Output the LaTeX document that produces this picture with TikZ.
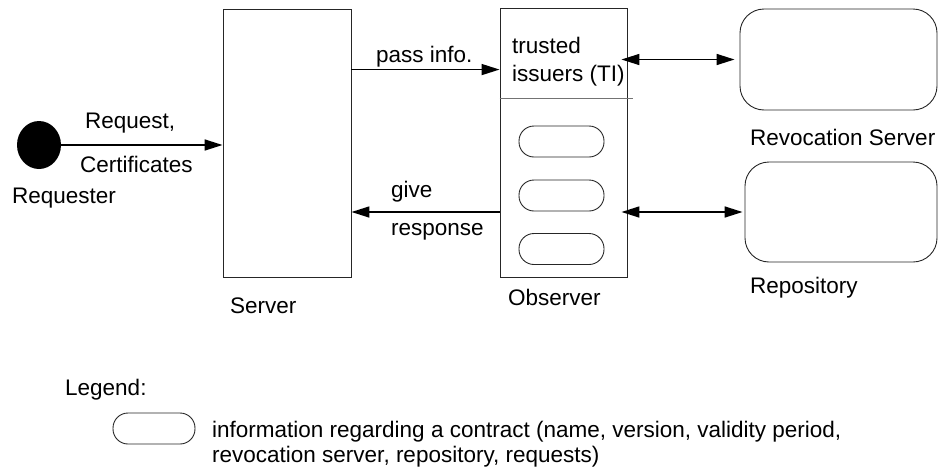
\documentclass[tikz,border=0pt]{standalone}
\usepackage{fontspec}
\setmainfont{Liberation Sans}
\usetikzlibrary{arrows.meta,shapes.geometric}

\begin{document}
\begin{tikzpicture}[x=1pt, y=-1pt,
		font=\fontsize{22.5}{28}\selectfont,
		block/.style={draw=black!85, line width=0.9pt, inner sep=0pt},
		store/.style={block, rounded corners=24pt},
		entry/.style={block, rounded corners=15pt, minimum width=#1, minimum height=31pt},
		entry/.default=85pt,
		msg/.style={line width=1.6pt, -{Triangle[length=18pt,width=11pt]}},
		sync/.style={line width=1.6pt, {Triangle[length=18pt,width=11pt]}-{Triangle[length=18pt,width=11pt]}},
		lbl/.style={inner sep=0pt, anchor=base west},
	]
		\useasboundingbox (0,0) rectangle (938,469);
		%
		\node[ellipse, fill=black, minimum width=44pt, minimum height=48pt, inner sep=0pt] (req) at (39,145) {};
		\node[block, minimum width=128pt, minimum height=268pt] (srv) at (287,143) {};
		\node[block, minimum width=127pt, minimum height=269pt] (obs) at (563.5,142.5) {};
		\node[store, minimum width=197pt, minimum height=101pt] (rev) at (838.5,59.5) {};
		\node[store, minimum width=192pt, minimum height=100pt] (repo) at (841,212) {};
		\draw[black!55, line width=0.9pt] ([yshift=-91pt]obs.north west) -- ++(133,0);
		\foreach \n/\y in {1/141.5, 2/195.5, 3/249}
			\node[entry] (c\n) at (561.5,\y) {};
		%
		\coordinate (pass) at ([yshift=-61pt]srv.north east);
		\draw[msg] (req.east) -- (req.east -| srv.west);
		\draw[msg] (pass) -- (pass -| obs.west);
		\draw[msg] (obs.west |- repo.west) -- (srv.east |- repo.west);
		\draw[sync, shorten <=-6pt, shorten >=5pt] (obs.east |- rev.west) -- (rev.west);
		\draw[sync, shorten <=-6pt, shorten >=2pt] (obs.east |- repo.west) -- (repo.west);
		%
		\node[lbl] at (85,128) {Request,};
		\node[lbl] at (80,172) {Certificates};
		\node[lbl] at (12,203) {Requester};
		\node[lbl] at (376,62) {pass info.};
		\node[lbl, anchor=north west, align=left] at (512,36.5) {trusted\\issuers (TI)};
		\node[lbl] at (391,197) {give};
		\node[lbl] at (391,235) {response};
		\node[lbl] at (230,313) {Server};
		\node[lbl] at (508,305) {Observer};
		\node[lbl] at (750,145) {Revocation Server};
		\node[lbl] at (750,293) {Repository};
		%
		\node[lbl] at (65,395) {Legend:};
		\node[entry=82pt] (key) at (154,428.5) {};
		\node[lbl, anchor=north west, align=left, font=\fontsize{22.5}{25.5}\selectfont] at (212,420.5)
			{information regarding a contract (name, version, validity period,\\revocation server, repository, requests)};
	\end{tikzpicture}
\end{document}
